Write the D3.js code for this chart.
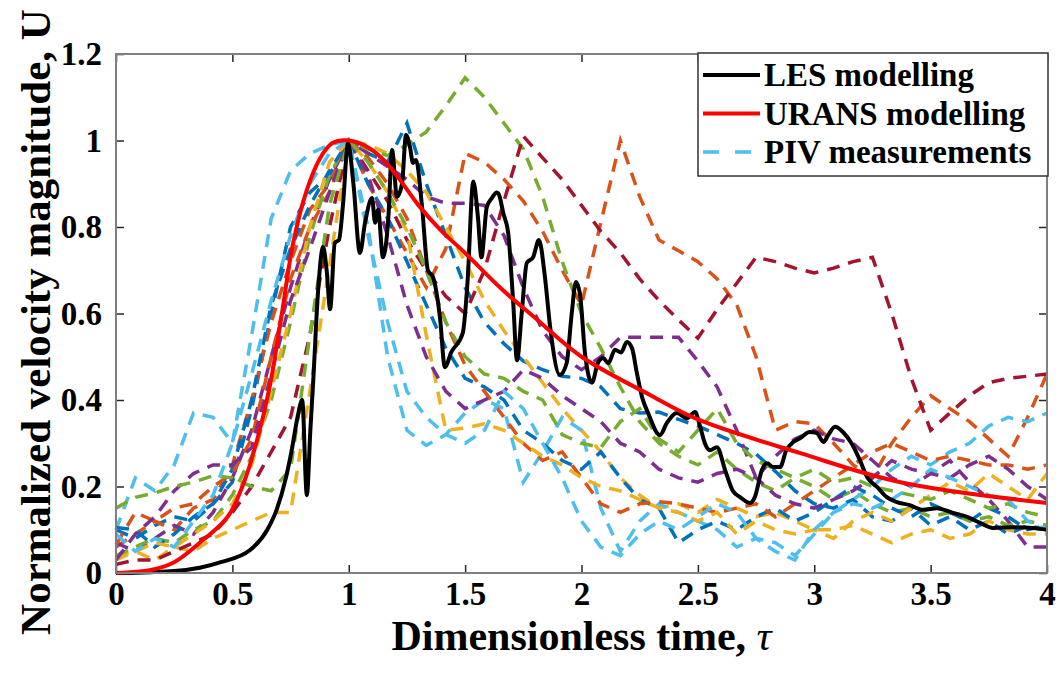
<!DOCTYPE html>
<html>
<head>
<meta charset="utf-8">
<script src="https://cdn.jsdelivr.net/npm/d3@7"></script>
<style>
  body { margin: 0; background: #fff; }
  svg text { font-family: "Liberation Serif", "Times New Roman", serif; font-weight: bold; fill: #000; }
</style>
</head>
<body>
<div id="chart"></div>
<script>
// axis ticks
const xTicks = [0, 0.5, 1, 1.5, 2, 2.5, 3, 3.5, 4];
const xTickLabels = ["0", "0.5", "1", "1.5", "2", "2.5", "3", "3.5", "4"];
const yTicks = [0, 0.2, 0.4, 0.6, 0.8, 1, 1.2];
const yTickLabels = ["0", "0.2", "0.4", "0.6", "0.8", "1", "1.2"];

const legendLabels = ["LES modelling", "URANS modelling", "PIV measurements"];

// LES modelling (black)
const lesTime = [0, 0.15, 0.3, 0.36, 0.45, 0.576, 0.65, 0.69, 0.73, 0.755, 0.78, 0.80, 0.82, 0.835, 0.847, 0.868, 0.89, 0.905, 0.92, 0.94,
  0.958, 0.975, 0.997, 1.02, 1.048, 1.07, 1.1, 1.113, 1.126, 1.147, 1.17, 1.186, 1.207, 1.229, 1.246, 1.263, 1.276, 1.289, 1.315, 1.34,
  1.362, 1.392, 1.413, 1.44, 1.49, 1.51, 1.535, 1.555, 1.57, 1.593, 1.615, 1.636, 1.646, 1.664, 1.685, 1.706, 1.723, 1.743, 1.765, 1.792,
  1.817, 1.843, 1.865, 1.907, 1.936, 1.958, 1.976, 1.993, 2.015, 2.045, 2.07, 2.093, 2.115, 2.144, 2.17, 2.195, 2.217, 2.238, 2.26, 2.286,
  2.337, 2.367, 2.41, 2.453, 2.488, 2.51, 2.53, 2.552, 2.582, 2.617, 2.65, 2.68, 2.724, 2.745, 2.775, 2.797, 2.823, 2.853, 2.88, 2.91,
  2.94, 2.98, 3.01, 3.04, 3.06, 3.09, 3.123, 3.16, 3.196, 3.227, 3.27, 3.31, 3.355, 3.41, 3.467, 3.527, 3.596, 3.656, 3.712, 3.768,
  3.854, 3.94, 4.0];
const lesU = [0, 0.002, 0.007, 0.012, 0.025, 0.053, 0.1, 0.146, 0.22, 0.284, 0.36, 0.40, 0.18, 0.33, 0.44, 0.65, 0.754, 0.70, 0.61, 0.763,
  0.77, 0.85, 0.994, 0.9, 0.74, 0.81, 0.867, 0.81, 0.84, 0.73, 0.82, 0.978, 0.87, 0.90, 1.013, 0.985, 0.948, 0.955, 0.846, 0.70,
  0.684, 0.59, 0.476, 0.51, 0.555, 0.67, 0.905, 0.823, 0.73, 0.846, 0.867, 0.88, 0.874, 0.832, 0.786, 0.631, 0.492, 0.60, 0.717, 0.73,
  0.77, 0.684, 0.57, 0.458, 0.485, 0.60, 0.673, 0.647, 0.508, 0.44, 0.485, 0.497, 0.485, 0.516, 0.51, 0.534, 0.52, 0.462, 0.407, 0.37,
  0.319, 0.347, 0.37, 0.358, 0.372, 0.338, 0.30, 0.284, 0.291, 0.238, 0.19, 0.176, 0.162, 0.176, 0.238, 0.254, 0.245, 0.245, 0.284, 0.303,
  0.312, 0.326, 0.324, 0.303, 0.319, 0.338, 0.326, 0.30, 0.261, 0.222, 0.199, 0.176, 0.164, 0.157, 0.146, 0.15, 0.139, 0.13, 0.116, 0.104,
  0.106, 0.104, 0.10];

// URANS modelling (red)
const uransTime = [0, 0.15, 0.25, 0.36, 0.48, 0.55, 0.61, 0.66, 0.71, 0.76, 0.82, 0.88, 0.93, 1.0, 1.08, 1.15, 1.22, 1.3, 1.4, 1.5,
  1.65, 1.8, 2.0, 2.3, 2.5, 2.94, 3.37, 4.0];
const uransU = [0, 0.007, 0.025, 0.07, 0.13, 0.21, 0.315, 0.43, 0.59, 0.76, 0.886, 0.962, 0.994, 1.0, 0.985, 0.955, 0.909, 0.85, 0.79, 0.74,
  0.66, 0.59, 0.50, 0.41, 0.355, 0.277, 0.21, 0.162];

// PIV measurements (dashed), all sampled on the same time steps
const pivTime = [0, 0.083, 0.167, 0.25, 0.333, 0.417, 0.5, 0.583, 0.667, 0.75, 0.833, 0.917, 1, 1.083, 1.167, 1.25, 1.333, 1.417,
  1.5, 1.583, 1.667, 1.75, 1.833, 1.917, 2, 2.083, 2.167, 2.25, 2.333, 2.417, 2.5, 2.583, 2.667, 2.75, 2.833, 2.917, 3, 3.083, 3.167,
  3.25, 3.333, 3.417, 3.5, 3.583, 3.667, 3.75, 3.833, 3.917, 4];
const piv1 = [0.10,0.08,0.11,0.13,0.12,0.16,0.21,0.38,0.60,0.80,0.88,0.92,1.00,0.97,0.95,1.04,0.90,0.78,0.66,0.58,0.53,0.49,0.47,0.455,0.45,
  0.43,0.38,0.37,0.372,0.355,0.34,0.32,0.30,0.275,0.235,0.19,0.16,0.15,0.17,0.13,0.12,0.15,0.11,0.13,0.10,0.12,0.09,0.11,0.10];
const piv2 = [0.06,0.09,0.12,0.10,0.15,0.17,0.25,0.40,0.58,0.72,0.84,0.90,1.00,0.90,0.82,0.74,0.66,0.75,0.97,0.95,0.91,0.86,0.79,0.70,0.62,
  0.81,1.00,0.87,0.77,0.745,0.72,0.68,0.62,0.50,0.33,0.35,0.345,0.30,0.25,0.22,0.30,0.36,0.41,0.38,0.35,0.31,0.27,0.36,0.46];
const piv3 = [0.04,0.05,0.03,0.06,0.05,0.08,0.10,0.12,0.14,0.14,0.42,0.71,1.00,0.99,0.97,0.93,0.88,0.80,0.72,0.63,0.56,0.50,0.44,0.38,0.33,
  0.28,0.22,0.18,0.15,0.16,0.14,0.17,0.15,0.13,0.14,0.12,0.10,0.10,0.11,0.09,0.07,0.09,0.10,0.08,0.09,0.12,0.10,0.09,0.09];
const piv4 = [0.07,0.05,0.08,0.11,0.09,0.14,0.22,0.33,0.50,0.66,0.80,0.91,1.00,0.97,0.94,0.91,0.87,0.855,0.855,0.85,0.78,0.66,0.56,0.50,0.47,
  0.50,0.545,0.545,0.545,0.545,0.49,0.43,0.33,0.22,0.27,0.31,0.33,0.31,0.30,0.26,0.22,0.20,0.23,0.26,0.21,0.17,0.12,0.06,0.06];
const piv5 = [0.04,0.06,0.08,0.07,0.10,0.12,0.18,0.27,0.40,0.58,0.78,0.92,1.00,0.98,0.965,0.99,1.02,1.08,1.145,1.10,1.04,0.98,0.87,0.72,0.60,
  0.52,0.43,0.35,0.30,0.27,0.25,0.28,0.24,0.21,0.19,0.22,0.20,0.17,0.19,0.16,0.14,0.15,0.13,0.14,0.12,0.13,0.11,0.12,0.11];
const piv6 = [0.10,0.22,0.19,0.25,0.37,0.36,0.30,0.55,0.82,0.93,0.97,0.99,1.00,0.80,0.50,0.33,0.295,0.32,0.37,0.40,0.38,0.21,0.28,0.36,0.33,
  0.15,0.05,0.12,0.16,0.14,0.12,0.10,0.06,0.08,0.07,0.04,0.09,0.14,0.17,0.20,0.24,0.27,0.25,0.28,0.30,0.34,0.36,0.35,0.37];
const piv7 = [0.02,0.03,0.03,0.05,0.07,0.09,0.14,0.20,0.28,0.36,0.55,0.80,1.00,0.93,0.86,0.77,0.70,0.64,0.60,0.70,0.86,1.01,0.96,0.91,0.85,
  0.79,0.74,0.68,0.63,0.585,0.543,0.61,0.67,0.73,0.72,0.705,0.694,0.705,0.72,0.73,0.60,0.45,0.33,0.37,0.41,0.44,0.45,0.455,0.46];
const piv8 = [0.105,0.10,0.06,0.09,0.13,0.16,0.24,0.40,0.62,0.75,0.85,0.93,1.00,0.90,0.82,0.72,0.62,0.52,0.45,0.43,0.40,0.33,0.30,0.26,0.24,
  0.28,0.22,0.17,0.15,0.07,0.10,0.12,0.10,0.13,0.15,0.12,0.14,0.17,0.20,0.18,0.15,0.13,0.16,0.14,0.12,0.15,0.13,0.10,0.11];
const piv9 = [0.065,0.14,0.12,0.15,0.16,0.20,0.23,0.31,0.50,0.68,0.80,0.88,1.00,0.96,0.90,0.82,0.70,0.58,0.48,0.42,0.36,0.30,0.26,0.28,0.22,
  0.16,0.14,0.16,0.165,0.16,0.15,0.14,0.15,0.16,0.13,0.16,0.19,0.22,0.25,0.28,0.30,0.28,0.26,0.27,0.26,0.25,0.25,0.24,0.25];
const piv10 = [0.03,0.05,0.07,0.06,0.09,0.12,0.16,0.25,0.42,0.60,0.80,0.95,1.00,0.95,0.88,0.79,0.55,0.33,0.335,0.345,0.33,0.30,0.27,0.25,0.22,
  0.20,0.19,0.17,0.15,0.14,0.12,0.14,0.09,0.12,0.10,0.09,0.10,0.08,0.12,0.14,0.12,0.15,0.18,0.21,0.19,0.23,0.20,0.17,0.23];
const piv11 = [0.03,0.09,0.13,0.19,0.23,0.25,0.25,0.29,0.46,0.63,0.75,0.88,1.00,0.92,0.78,0.62,0.50,0.42,0.38,0.40,0.42,0.47,0.45,0.41,0.38,
  0.35,0.30,0.28,0.24,0.22,0.21,0.23,0.24,0.22,0.18,0.16,0.15,0.17,0.19,0.22,0.26,0.24,0.23,0.22,0.25,0.27,0.24,0.20,0.17];
const piv12 = [0.15,0.175,0.185,0.20,0.21,0.225,0.22,0.20,0.19,0.24,0.55,0.85,1.00,0.95,0.88,0.80,0.70,0.58,0.50,0.46,0.45,0.42,0.40,0.32,0.30,
  0.29,0.35,0.38,0.31,0.28,0.33,0.38,0.30,0.26,0.24,0.22,0.24,0.21,0.22,0.20,0.19,0.18,0.17,0.19,0.17,0.15,0.16,0.14,0.13];
const piv13 = [0.09,0.05,0.08,0.06,0.12,0.18,0.30,0.46,0.63,0.78,0.90,0.97,1.00,0.78,0.58,0.42,0.36,0.32,0.30,0.33,0.42,0.38,0.30,0.22,0.12,
  0.06,0.04,0.09,0.12,0.10,0.13,0.16,0.14,0.08,0.05,0.03,0.10,0.14,0.16,0.15,0.17,0.20,0.24,0.22,0.20,0.18,0.17,0.12,0.10];

const pivSeries = [piv1, piv2, piv3, piv4, piv5, piv6, piv7, piv8, piv9, piv10, piv11, piv12, piv13];

const width = 1061;
const height = 675;
const margin = { left: 116, right: 14, top: 54, bottom: 102 };

// matlab default line colours
const color = d3.scaleOrdinal()
  .domain(d3.range(7))
  .range(["#0072BD", "#D95319", "#EDB120", "#7E2F8E", "#77AC30", "#4DBEEE", "#A2142F"]);

const x = d3.scaleLinear().domain([0, 4]).range([margin.left, width - margin.right]);
const y = d3.scaleLinear().domain([0, 1.2]).range([height - margin.bottom, margin.top]);

const svg = d3.select("#chart")
  .append("svg")
  .attr("width", width)
  .attr("height", height);

const plot = svg.append("g");

const line = d3.line()
  .x(d => x(d[0]))
  .y(d => y(d[1]));

pivSeries.forEach((vals, i) => {
  plot.append("path")
    .datum(pivTime.map((t, k) => [t, vals[k]]))
    .attr("d", line)
    .attr("fill", "none")
    .attr("stroke", color(i % 7))
    .attr("stroke-width", 3.5)
    .attr("stroke-dasharray", "13,9");
});

plot.append("path")
  .datum(lesTime.map((t, k) => [t, lesU[k]]))
  .attr("d", line.curve(d3.curveMonotoneX))
  .attr("fill", "none")
  .attr("stroke", "#000")
  .attr("stroke-width", 4)
  .attr("stroke-linejoin", "round");

plot.append("path")
  .datum(uransTime.map((t, k) => [t, uransU[k]]))
  .attr("d", line.curve(d3.curveCatmullRom.alpha(0.5)))
  .attr("fill", "none")
  .attr("stroke", "#ff0000")
  .attr("stroke-width", 4);

// axes, ticks pointing inward on all four sides
const fontTick = "33px";

svg.append("g")
  .attr("transform", `translate(0,${height - margin.bottom})`)
  .call(d3.axisBottom(x).tickValues(xTicks).tickFormat((d, i) => xTickLabels[i]).tickSize(-8).tickPadding(9));
svg.append("g")
  .attr("transform", `translate(${margin.left},0)`)
  .call(d3.axisLeft(y).tickValues(yTicks).tickFormat((d, i) => yTickLabels[i]).tickSize(-8).tickPadding(14));
svg.append("g")
  .attr("transform", `translate(0,${margin.top})`)
  .call(d3.axisTop(x).tickValues(xTicks).tickFormat("").tickSize(-8));
svg.append("g")
  .attr("transform", `translate(${width - margin.right},0)`)
  .call(d3.axisRight(y).tickValues(yTicks).tickFormat("").tickSize(-8));

svg.selectAll(".domain").remove();
svg.selectAll(".tick line").attr("stroke", "#262626").attr("stroke-width", 1.5);
svg.selectAll(".tick text")
  .style("font-size", fontTick)
  .style("font-family", "'Liberation Serif', 'Times New Roman', serif")
  .style("font-weight", "bold")
  .attr("fill", "#000");

svg.append("rect")
  .attr("x", margin.left)
  .attr("y", margin.top)
  .attr("width", width - margin.left - margin.right)
  .attr("height", height - margin.top - margin.bottom)
  .attr("fill", "none")
  .attr("stroke", "#7f7f7f")
  .attr("stroke-width", 2);

// axis titles
const xTitle = svg.append("text")
  .attr("x", (margin.left + width - margin.right) / 2)
  .attr("y", 650)
  .attr("text-anchor", "middle")
  .style("font-size", "42px")
  .text("Dimensionless time, ");
xTitle.append("tspan")
  .style("font-style", "italic")
  .style("font-weight", "normal")
  .text("τ");

svg.append("text")
  .attr("transform", "translate(50,322) rotate(-90)")
  .attr("text-anchor", "middle")
  .style("font-size", "43px")
  .text("Normalized velocity magnitude, U");

// legend
const legend = svg.append("g").attr("transform", "translate(698,53)");
legend.append("rect")
  .attr("width", 350)
  .attr("height", 123)
  .attr("fill", "#fff")
  .attr("stroke", "#333")
  .attr("stroke-width", 1.5);

const legendStyles = [
  { stroke: "#000", dash: null },
  { stroke: "#ff0000", dash: null },
  { stroke: color(5), dash: "16,16" }
];

legendLabels.forEach((label, i) => {
  const yy = 22 + i * 38.5;
  legend.append("line")
    .attr("x1", 5).attr("x2", 62)
    .attr("y1", yy).attr("y2", yy)
    .attr("stroke", legendStyles[i].stroke)
    .attr("stroke-width", i === 2 ? 3.5 : 4)
    .attr("stroke-dasharray", legendStyles[i].dash);
  legend.append("text")
    .attr("x", 66)
    .attr("y", yy + 11)
    .style("font-size", "33px")
    .text(label);
});
</script>
</body>
</html>
